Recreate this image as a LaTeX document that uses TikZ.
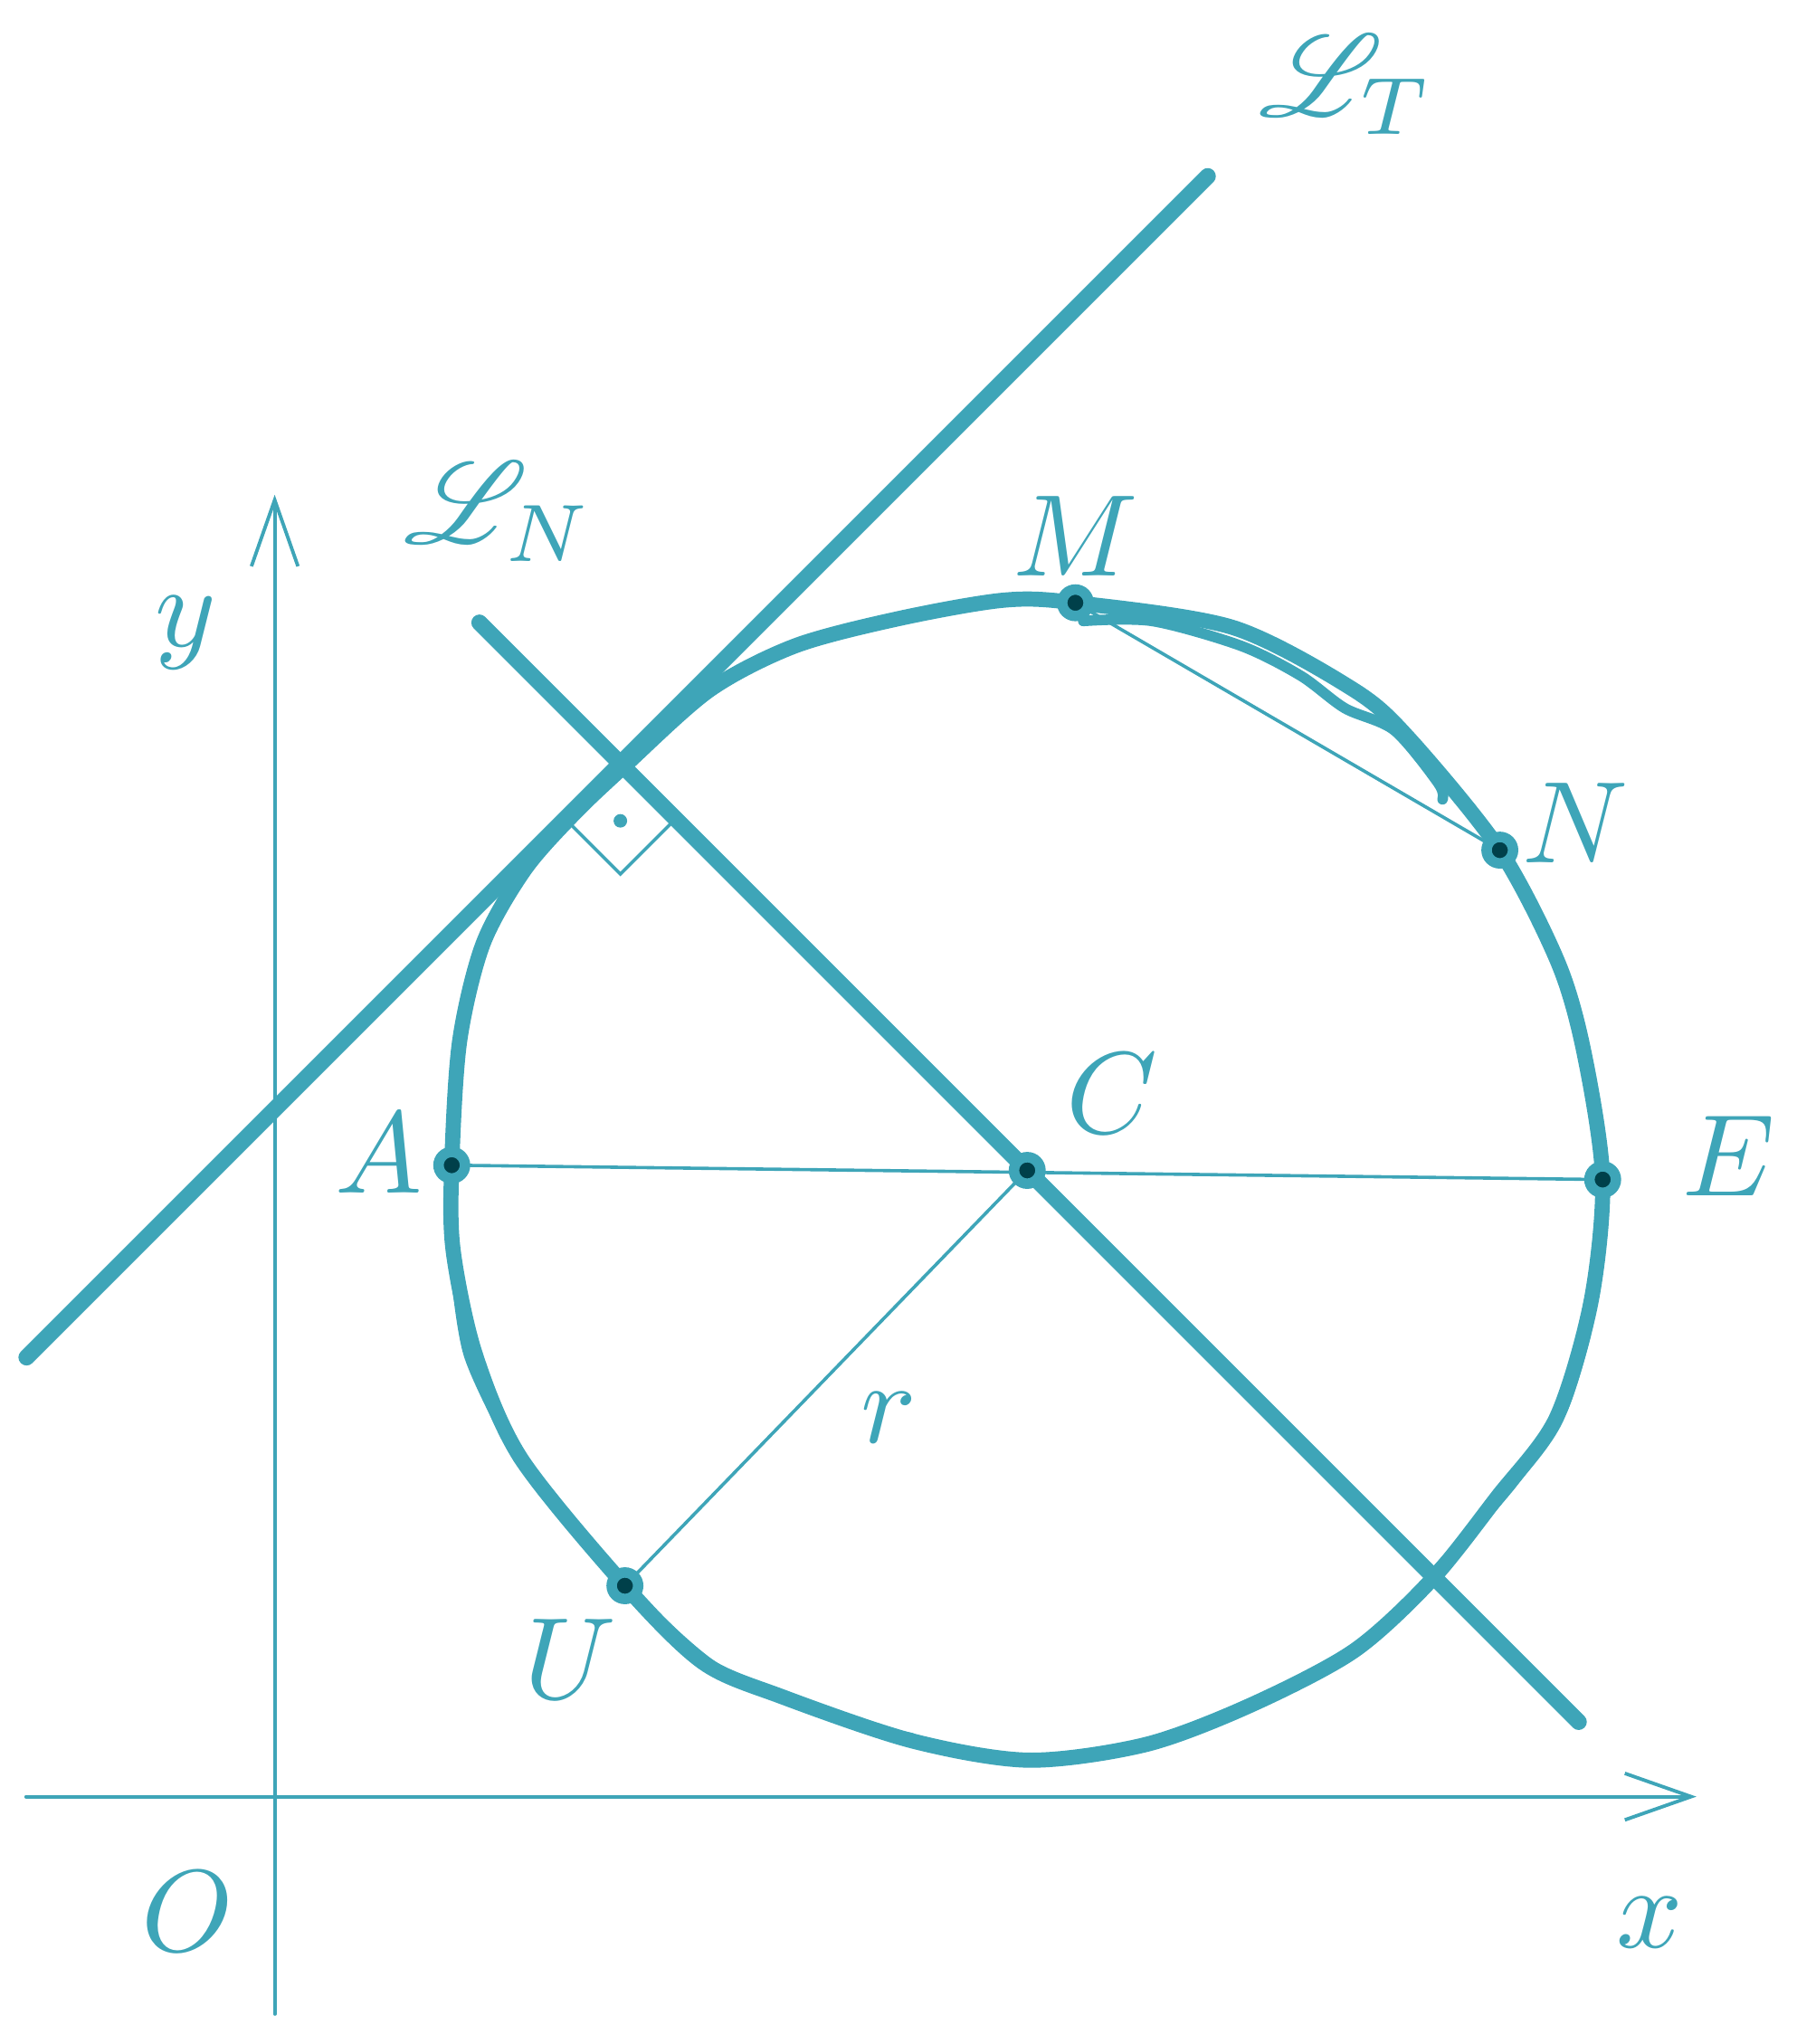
\documentclass[tikz,border=0pt]{standalone}
\usepackage{amsmath}
\usepackage{mathrsfs}
\usetikzlibrary{arrows.meta,calc}
\definecolor{teal0}{HTML}{3EA5B8}
\definecolor{deep0}{HTML}{00404A}

\begin{document}
\begin{tikzpicture}[x=0.3934cm,y=0.3934cm,color=teal0,line cap=round,
        axis/.style={line width=0.3pt,-{Straight Barb[length=5.7pt,width=4pt]}},
        chord/.style={line width=0.28pt},
        bold/.style={line width=1.4pt},
        rim/.style={line width=1.3pt},
        rim2/.style={line width=0.9pt},
        pt/.style={circle,fill=deep0,draw=teal0,line width=0.9pt,inner sep=0pt,minimum size=0.08cm}]

  \useasboundingbox (-2.11,-1.90) rectangle (11.69,13.80);

  % axes
  \coordinate (xl) at (-1.91,0);
  \coordinate (xr) at (10.92,0);
  \coordinate (yb) at (0,-1.67);
  \coordinate (yt) at (0,10.0);
  \draw[axis] (xl) -- (xr);
  \draw[axis] (yb) -- (yt);

  % points on the circle
  \coordinate (C) at (5.78,4.81);
  \coordinate (A) at (1.36,4.85);
  \coordinate (E) at (10.20,4.74);
  \coordinate (M) at (6.15,9.17);
  \coordinate (N) at (9.41,7.27);
  \coordinate (U) at (2.69,1.62);
  \coordinate (P) at (2.655,7.935);

  % the circle, drawn by hand
  \draw[rim] plot[smooth cycle] coordinates {(1.36,4.85) (1.42,5.80) (1.60,6.55)
      (1.92,7.12) (2.30,7.55) (2.69,7.92) (3.34,8.50) (4.00,8.84) (4.80,9.05)
      (5.60,9.19) (6.15,9.17) (7.36,8.98) (8.29,8.50) (8.72,8.12) (9.41,7.27)
      (9.86,6.40) (10.06,5.70) (10.20,4.74) (10.11,3.80) (9.84,2.90) (9.39,2.30)
      (8.89,1.67) (8.29,1.12) (7.49,0.70) (6.69,0.40) (5.79,0.28) (4.89,0.43)
      (3.89,0.77) (3.29,1.03) (2.69,1.62) (1.89,2.60) (1.54,3.40) (1.37,4.20)};
  \draw[rim2] plot[smooth] coordinates {(6.21,9.03) (6.74,9.03) (7.42,8.84)
      (7.88,8.61) (8.22,8.36) (8.60,8.19) (8.94,7.78) (8.97,7.66)};
  \draw[rim2] plot[smooth] coordinates {(2.69,1.62) (3.40,0.98) (4.39,0.58) (4.89,0.45)};
  \draw[rim2] plot[smooth] coordinates {(10.07,3.55) (9.88,2.95) (9.50,2.40) (8.89,1.70)};
  \draw[rim2] plot[smooth] coordinates {(1.37,4.25) (1.49,3.40) (1.87,2.60)};

  % normal and tangent
  \draw[bold] ($(C)+(135:5.95)$) -- ($(C)+(315:5.99)$);
  \draw[bold] ($(P)+(225:6.45)$) -- ($(P)+(45:6.38)$);

  % right angle
  \draw[chord] ($(P)+(225:0.6)$) -- ++(315:0.6) -- ++(45:0.6);
  \fill ($(P)+(270:0.44)$) circle (0.052);

  % chords and radius
  \draw[chord] (A) -- (E);
  \draw[chord] (C) -- (U);
  \draw[chord] (M) -- (N);

  \foreach \p in {A,C,E,M,N,U}
    \node[pt] (d\p) at (\p) {};

  % labels
  \node (lO) at (-0.67,-0.88) {$O$};
  \node (lx) at (10.56,-0.97) {$x$};
  \node (ly) at (-0.68,8.94) {$y$};
  \node (lA) at (0.80,4.94) {$A$};
  \node (lC) at (6.43,5.40) {$C$};
  \node (lE) at (11.17,4.92) {$E$};
  \node (lU) at (2.27,1.06) {$U$};
  \node (lM) at (6.15,9.68) {$M$};
  \node (lN) at (9.99,7.48) {$N$};
  \node (lr) at (4.72,2.91) {$r$};
  \node (lLN) at (1.72,9.87) {$\mathscr{L}_N$};
  \node (lLT) at (8.23,13.15) {$\mathscr{L}_T$};

\end{tikzpicture}
\end{document}
